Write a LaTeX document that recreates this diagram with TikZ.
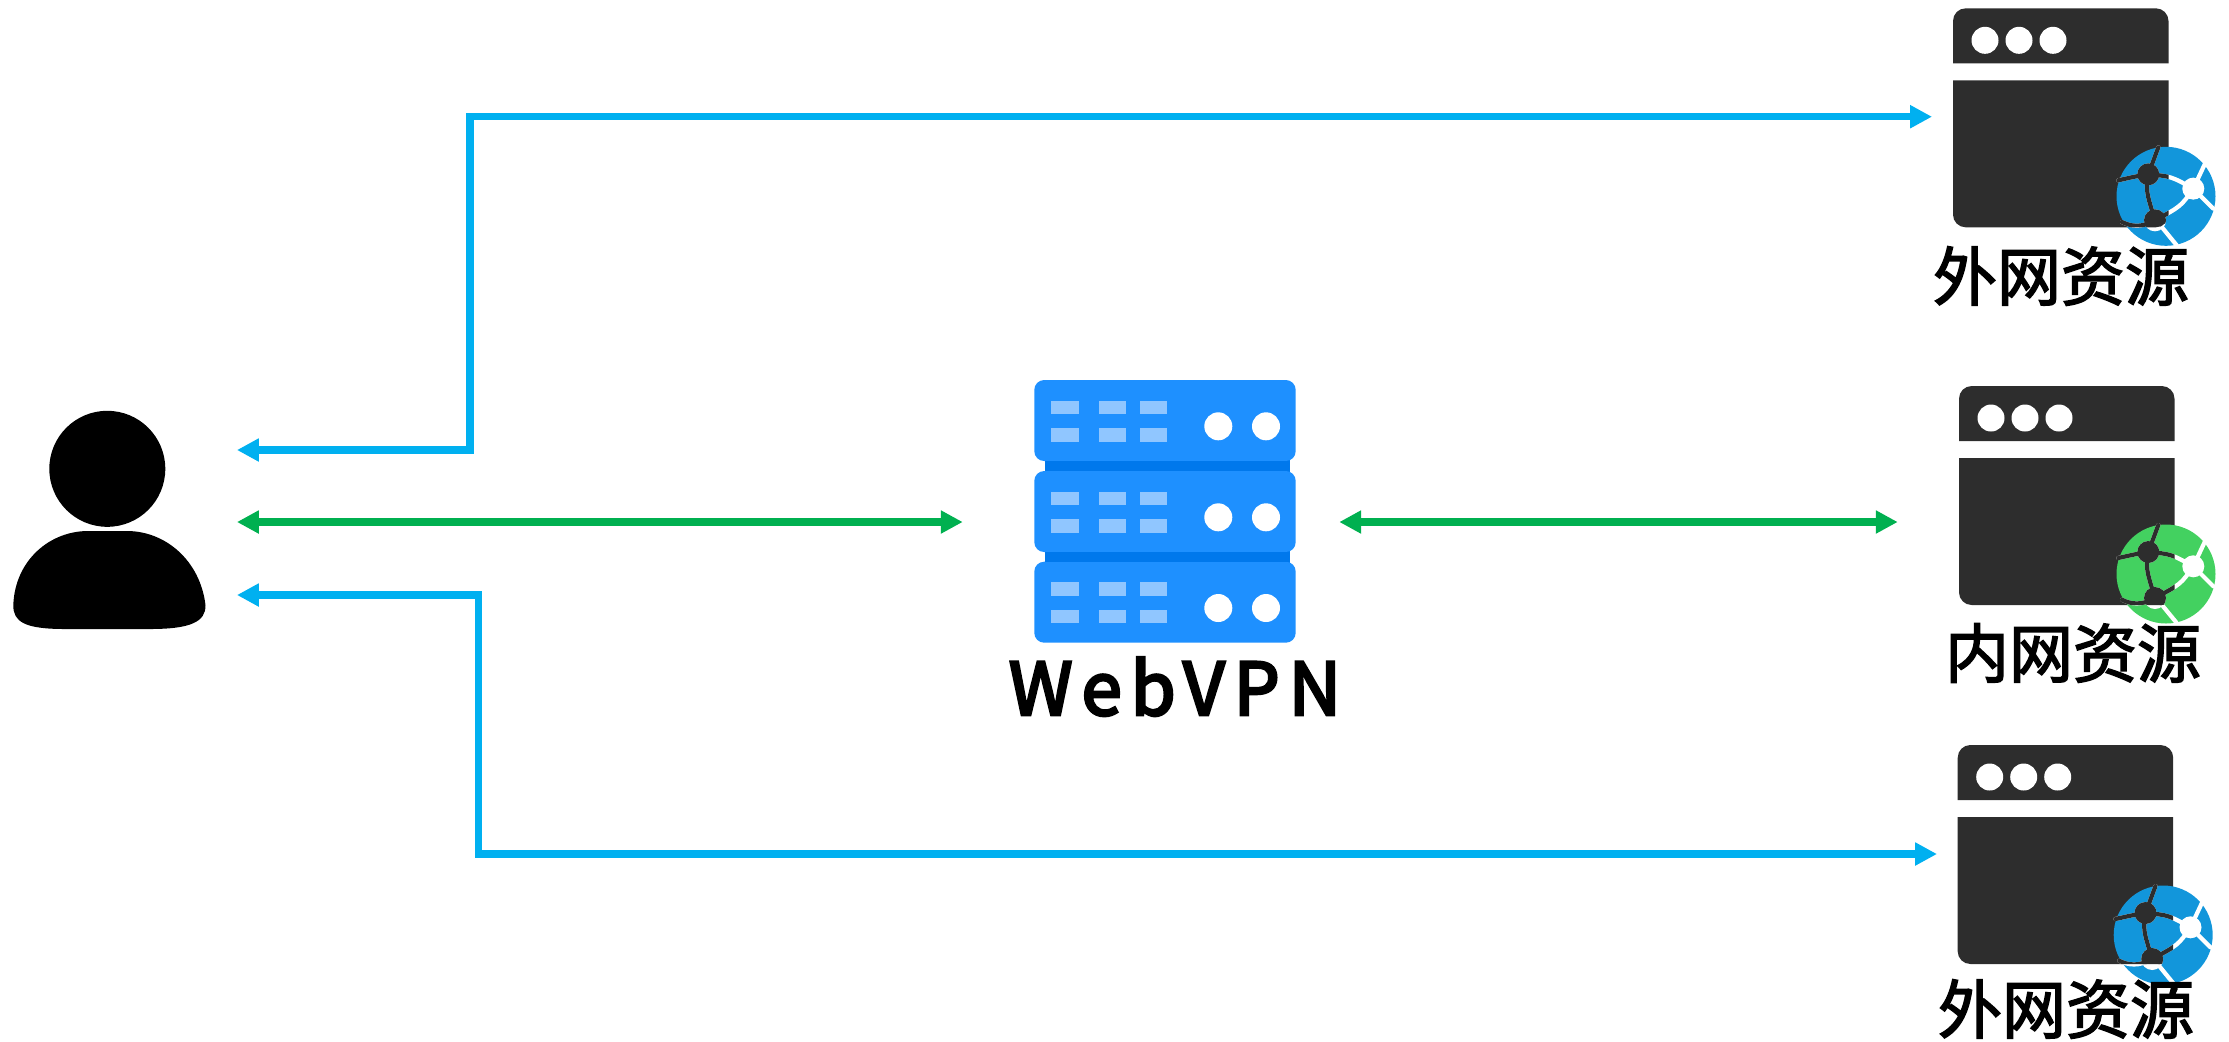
\documentclass[tikz,border=0pt]{standalone}
\usepackage{fontspec}
\newfontfamily\cjk[FakeBold=2.4]{Noto Sans CJK SC}
\newfontfamily\cjkspaced[LetterSpace=12.5,FakeBold=4]{Noto Sans CJK SC}
\usetikzlibrary{arrows.meta}
\definecolor{linkblue}{HTML}{00B0F0}
\definecolor{linkgreen}{HTML}{00B050}
\definecolor{windark}{HTML}{2D2D2D}
\definecolor{globeblue}{HTML}{1296DB}
\definecolor{globegreen}{HTML}{43D160}
\definecolor{rackblue}{HTML}{1E90FF}
\definecolor{rackdark}{HTML}{0078EC}
\definecolor{racklight}{HTML}{90C6FF}
\tikzset{
link/.style={line width=2.1pt,{Triangle[length=6.2pt,width=6.2pt]}-{Triangle[length=6.2pt,width=6.2pt]}},
bluelink/.style={link,linkblue},
greenlink/.style={link,linkgreen},
reslabel/.style={font=\cjk\fontsize{18.2}{20}\selectfont,inner sep=0pt},
globeline/.style={line width=1.2pt,line cap=round}
}
% lines of the globe, seen from its centre
\newcommand{\globelines}[1]{
\draw[globeline,#1] (-17.7,-22)--(-7.7,-49);
\draw[globeline,#1] (-17.7,-22) .. controls (-30,-20) .. (-47.7,-16);
\draw[globeline,#1] (-17.7,-22) .. controls (5,-20) .. (27.3,-7.7);
\draw[globeline,#1] (-17.7,-22) .. controls (-20,-5) .. (-11,24);
\draw[globeline,#1] (27.3,-7.7)--(39,-32.7);
\draw[globeline,#1] (27.3,-7.7)--(47.3,12.3);
\draw[globeline,#1] (27.3,-7.7) .. controls (15,10) .. (-11,24);
\draw[globeline,#1] (-4,31)--(10.7,49);
\draw[globeline,#1] (-11,24) .. controls (-25,32) and (-35,30) .. (-44,25.7);
\fill[#1] (-17.7,-22) circle (11);
\fill[#1] (27.3,-7.7) circle (11);
\fill[#1] (-11,24) circle (11);
}
% window at (#1,#2), globe centre (#3,#4) inside it, globe colour #5
\newcommand{\webwin}[5]{
\begin{scope}[shift={(#1,#2)}]
\fill[windark] (0,55) [rounded corners=3.6pt] --(0,0)--(215.5,0) [sharp corners] --(215.5,55)--cycle;
\fill[windark] (0,72)--(215.5,72) [rounded corners=3.6pt] --(215.5,219)--(0,219) [sharp corners] --cycle;
\foreach \dotx in {32,66,100} \fill[white] (\dotx,32) circle (13.5);
\begin{scope}[shift={(#3,#4)}]
\fill[#5] (0,0) circle (49.5);
\globelines{white}
\end{scope}
\begin{scope}
\clip (0,72)--(215.5,72) [rounded corners=3.6pt] --(215.5,219)--(0,219) [sharp corners] --cycle;
\begin{scope}[shift={(#3,#4)}]
\globelines{windark}
\end{scope}
\end{scope}
\end{scope}
}
% one slab of the rack
\newcommand{\rackrow}[1]{
\begin{scope}[shift={(1034.3,#1)}]
\fill[rackblue,rounded corners=2.8pt] (0,0) rectangle (261.4,81);
\foreach \slotx in {17,64.7,105.4} {
\fill[racklight] (\slotx,20.7) rectangle +(27.3,13.6);
\fill[racklight] (\slotx,48.3) rectangle +(27.3,13.4);
}
\fill[white] (184,46.3) circle (14);
\fill[white] (231.7,46.3) circle (14);
\end{scope}
}
\begin{document}
\begin{tikzpicture}[x=0.01cm,y=-0.01cm]
\useasboundingbox (0,0) rectangle (2229,1041);
%user
\fill[black] (107.3,468.8) circle (58);
\fill[black] (13.3,605) .. controls (15,560) and (50,531) .. (88,531)--(127,531) .. controls (165,531) and (200,560) .. (205.5,605) .. controls (206,622) and (190,629) .. (150,629)--(65,629) .. controls (25,629) and (13,622) .. (13.3,605)--cycle;
%rack
\fill[rackdark] (1044.7,455) rectangle (1290,480);
\fill[rackdark] (1044.7,545) rectangle (1290,570);
\rackrow{380}
\rackrow{471}
\rackrow{561.7}
\fill[rackdark] (1044.7,461) rectangle (1290,471);
\fill[rackdark] (1044.7,551.7) rectangle (1290,561.7);
\node[inner sep=0pt,anchor=base,font=\cjkspaced\fontsize{20.6}{22}\selectfont] (webvpn) at (1175,715) {WebVPN};
%resources
\webwin{1953}{8.3}{213}{188}{globeblue}
\webwin{1959}{386}{207}{188}{globegreen}
\webwin{1957.7}{745}{205.5}{190}{globeblue}
\node[reslabel] (outerA) at (2061,276) {外网资源};
\node[reslabel] (inner) at (2073,653) {内网资源};
\node[reslabel] (outerB) at (2066,1009) {外网资源};
%link ends
\coordinate (userT) at (237,450);
\coordinate (userM) at (237,522);
\coordinate (userB) at (237,595);
\coordinate (bendT) at (470,116.7);
\coordinate (bendB) at (478.7,854);
\coordinate (winT) at (1932,116.7);
\coordinate (winB) at (1937,854);
\coordinate (rackL) at (962.7,522);
\coordinate (rackR) at (1339.3,522);
\coordinate (winM) at (1897.7,522);
\draw[bluelink] (userT)-|(bendT)--(winT);
\draw[bluelink] (userB)-|(bendB)--(winB);
\draw[greenlink] (userM)--(rackL);
\draw[greenlink] (rackR)--(winM);
\end{tikzpicture}
\end{document}
